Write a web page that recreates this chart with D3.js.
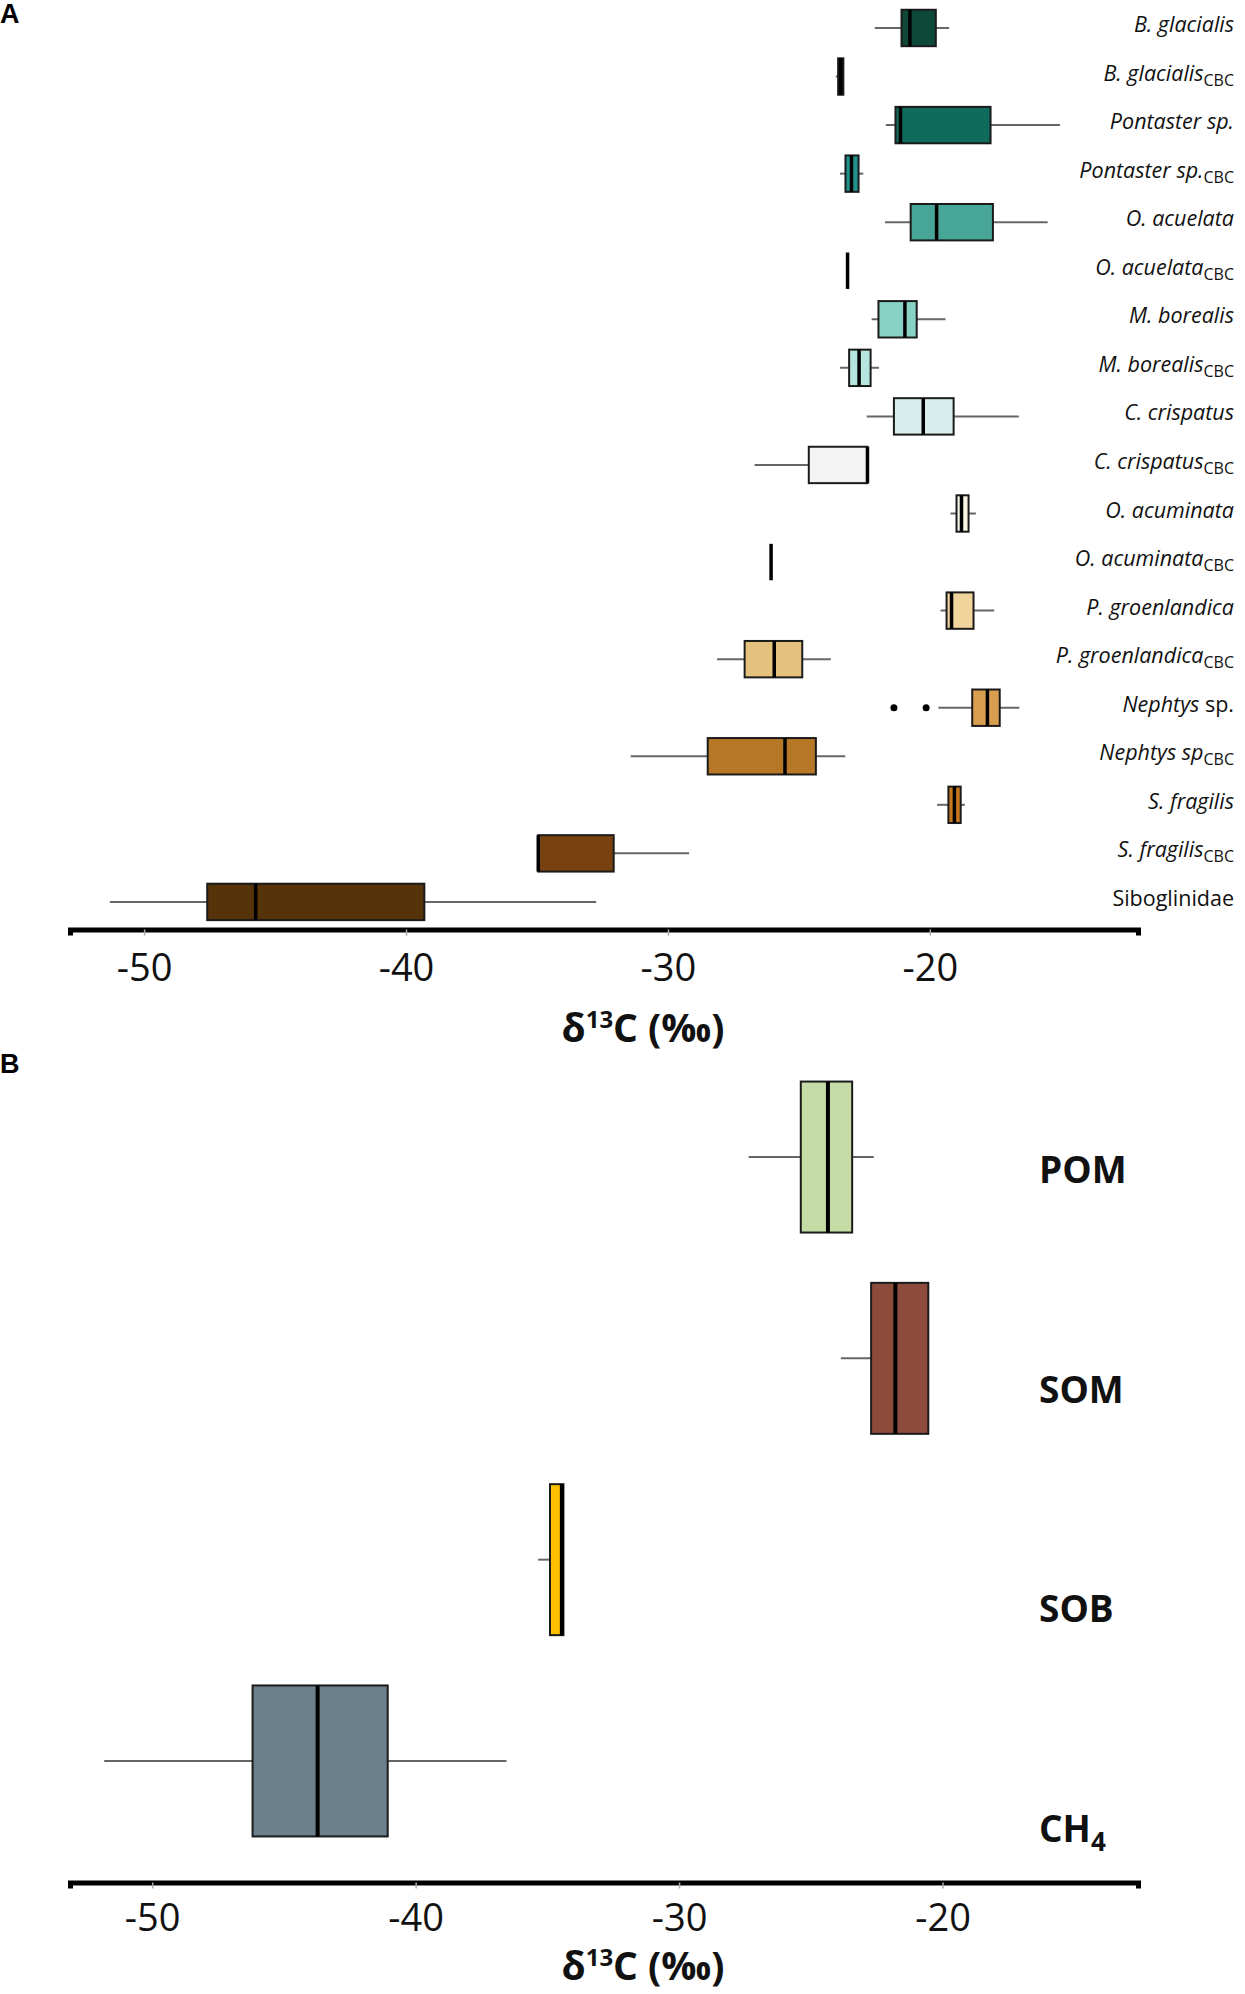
<!DOCTYPE html>
<html>
<head>
<meta charset="utf-8">
<script src="https://cdn.jsdelivr.net/npm/d3@7"></script>
<style>
  body { margin: 0; background: #fff; }
  text { font-family: "Open Sans", sans-serif; }
</style>
</head>
<body>
<div class="chart"></div>
<script>
// Panel A data (δ13C, ‰)
var taxaA = ["B. glacialis", "B. glacialis CBC", "Pontaster sp.", "Pontaster sp. CBC",
  "O. acuelata", "O. acuelata CBC", "M. borealis", "M. borealis CBC",
  "C. crispatus", "C. crispatus CBC", "O. acuminata", "O. acuminata CBC",
  "P. groenlandica", "P. groenlandica CBC", "Nephtys sp.", "Nephtys sp CBC",
  "S. fragilis", "S. fragilis CBC", "Siboglinidae"];
var labelsA = ["B. glacialis", "B. glacialis", "Pontaster  sp.", "Pontaster  sp.",
  "O. acuelata", "O. acuelata", "M. borealis", "M. borealis",
  "C. crispatus", "C. crispatus", "O. acuminata", "O. acuminata",
  "P. groenlandica", "P. groenlandica", "Nephtys ", "Nephtys sp",
  "S. fragilis", "S. fragilis", "Siboglinidae"];
var cbcA = [0,1,0,1,0,1,0,1,0,1,0,1,0,1,0,1,0,1,0];
var loA  = [-22.10, -23.59, -21.68, -23.43, -21.71, -23.14, -22.22, -23.43, -22.41, -26.69, -19.21, -26.06, -19.59, -28.12, -19.67, -31.42, -19.72, -34.95, -51.31];
var q1A  = [-21.08, -23.50, -21.31, -23.22, -20.73, -23.14, -21.96, -23.08, -21.37, -24.62, -18.98, -26.06, -19.36, -27.07, -18.38, -28.48, -19.29, -34.95, -47.59];
var medA = [-20.76, -23.40, -21.12, -22.99, -19.74, -23.14, -20.95, -22.70, -20.25, -22.38, -18.79, -26.06, -19.17, -25.94, -17.80, -25.53, -19.06, -34.95, -45.74];
var q3A  = [-19.77, -23.30, -17.68, -22.72, -17.59, -23.14, -20.50, -22.26, -19.09, -22.38, -18.52, -26.06, -18.33, -24.87, -17.33, -24.35, -18.82, -32.07, -39.30];
var hiA  = [-19.26, -23.30, -15.03, -22.54, -15.50, -23.14, -19.40, -21.94, -16.60, -22.38, -18.24, -26.06, -17.54, -23.78, -16.58, -23.23, -18.66, -29.19, -32.74];
var outliersA = [{taxon: "Nephtys sp.", value: -21.37}, {taxon: "Nephtys sp.", value: -20.14}];
var colorsA = ["#0d4838", "#0a2c24", "#0f6b5b", "#21928a", "#48a698", "#2a6b60", "#88d1c5", "#b6e5de",
  "#d8eeed", "#f3f3f3", "#f8f4e4", "#555555", "#f0d49c", "#e5c17e", "#d99f50", "#b67726",
  "#c7781e", "#774210", "#57330a"];

// Panel B data
var sourcesB = ["POM", "SOM", "SOB", "CH4"];
var loB  = [-27.36, -23.86, -35.35, -51.82];
var q1B  = [-25.38, -22.71, -34.90, -46.19];
var medB = [-24.35, -21.79, -34.45, -43.72];
var q3B  = [-23.43, -20.54, -34.39, -41.06];
var hiB  = [-22.61, -20.54, -34.39, -36.55];
var colorsB = ["#c6dca6", "#8c4b3b", "#ffc000", "#6b808a"];

var tickValues = [-50, -40, -30, -20];

var svgWidth = 1245;
var svgHeight = 1994;

var svg = d3.select(".chart")
  .append("svg")
  .attr("width", svgWidth)
  .attr("height", svgHeight);

svg.append("rect").attr("width", svgWidth).attr("height", svgHeight).attr("fill", "#fff");

function drawPanel(opt) {
  var rows = opt.cats.map(function(c, i) {
    return {cat: c, lo: opt.lo[i], q1: opt.q1[i], med: opt.med[i], q3: opt.q3[i], hi: opt.hi[i], color: opt.colors[i]};
  });

  var x = d3.scaleLinear().domain(opt.xDomain).range([70, 1138]);
  var y = d3.scaleBand().domain(opt.cats).range(opt.yRange)
    .paddingInner(0.25).paddingOuter(0.125);
  var bw = y.bandwidth();

  var g = svg.append("g");

  // whiskers
  g.selectAll(".whisk")
    .data(rows)
    .enter()
    .append("line")
    .attr("x1", d => x(d.lo))
    .attr("x2", d => x(d.hi))
    .attr("y1", d => y(d.cat) + bw / 2)
    .attr("y2", d => y(d.cat) + bw / 2)
    .attr("stroke", "#666")
    .attr("stroke-width", 2);

  // boxes
  g.selectAll(".box")
    .data(rows)
    .enter()
    .append("rect")
    .attr("x", d => x(d.q1))
    .attr("y", d => y(d.cat))
    .attr("width", d => x(d.q3) - x(d.q1))
    .attr("height", bw)
    .attr("fill", d => d.color)
    .attr("stroke", "#1b1b1b")
    .attr("stroke-width", 2);

  // medians
  g.selectAll(".med")
    .data(rows)
    .enter()
    .append("line")
    .attr("x1", d => x(d.med))
    .attr("x2", d => x(d.med))
    .attr("y1", d => y(d.cat))
    .attr("y2", d => y(d.cat) + bw)
    .attr("stroke", "#000")
    .attr("stroke-width", opt.medWidth);

  // axis
  var axis = g.append("g")
    .attr("transform", `translate(0, ${opt.axisY})`)
    .call(d3.axisBottom(x).tickValues(tickValues).tickFormat(d => String(d))
      .tickSizeOuter(0).tickSize(6).tickPadding(opt.tickPad));
  axis.select(".domain").attr("stroke", "#000").attr("stroke-width", 5);
  axis.selectAll(".tick line").attr("stroke", "#aaa").attr("stroke-width", 1.5);
  axis.selectAll(".tick text")
    .attr("fill", "#111")
    .style("font-size", "38px")
    .style("font-family", "'Open Sans', sans-serif");

  // axis title
  var t = g.append("text")
    .attr("x", 643)
    .attr("y", opt.titleY)
    .attr("text-anchor", "middle")
    .style("font-size", "39px")
    .style("font-weight", "bold")
    .attr("fill", "#111");
  t.append("tspan").text("δ");
  t.append("tspan").attr("dy", -14).style("font-size", "24px").text("13");
  t.append("tspan").attr("dy", 14).text("C (‰)");

  return {x: x, y: y, g: g};
}

// Panel A
var pA = drawPanel({
  cats: taxaA, lo: loA, q1: q1A, med: medA, q3: q3A, hi: hiA, colors: colorsA,
  xDomain: [-52.83, -12.05], yRange: [3.7, 926.2], axisY: 929.5, tickPad: 19,
  titleY: 1042, medWidth: 3.5
});

// outliers
pA.g.selectAll(".outlier")
  .data(outliersA)
  .enter()
  .append("circle")
  .attr("cx", d => pA.x(d.value))
  .attr("cy", d => pA.y(d.taxon) + pA.y.bandwidth() / 2)
  .attr("r", 3.5)
  .attr("fill", "#000");

// Panel A labels
var labA = pA.g.selectAll(".labA")
  .data(taxaA)
  .enter()
  .append("text")
  .attr("x", 1234)
  .attr("y", d => pA.y(d) + pA.y.bandwidth() / 2 + 4)
  .attr("text-anchor", "end")
  .style("font-size", "21.5px")
  .attr("fill", "#111");

labA.each(function(d, i) {
  var el = d3.select(this);
  var main = el.append("tspan").text(labelsA[i]);
  if (d !== "Siboglinidae") main.style("font-style", "italic");
  if (d === "Nephtys sp.") el.append("tspan").text("sp.");
  if (cbcA[i]) {
    el.append("tspan").attr("dy", 5).style("font-size", "16px").text("CBC");
  }
});

// Panel B
var pB = drawPanel({
  cats: sourcesB, lo: loB, q1: q1B, med: medB, q3: q3B, hi: hiB, colors: colorsB,
  xDomain: [-53.12, -12.58], yRange: [1056.4, 1861.6], axisY: 1882.5, tickPad: 16,
  titleY: 1980, medWidth: 4
});

var labelY = d3.scalePoint().domain(sourcesB).range([1170, 1829]);
var labB = pB.g.selectAll(".labB")
  .data(sourcesB)
  .enter()
  .append("text")
  .attr("x", 1039)
  .attr("y", d => labelY(d) + 13)
  .style("font-size", "37px")
  .style("font-weight", "bold")
  .attr("fill", "#111");

labB.each(function(d) {
  var el = d3.select(this);
  if (d === "CH4") {
    el.append("tspan").text("CH");
    el.append("tspan").attr("dy", 9).style("font-size", "26px").text("4");
  } else {
    el.text(d);
  }
});

// Panel letters
svg.append("text").attr("x", 0).attr("y", 23)
  .style("font-family", "'Liberation Sans', Arial, sans-serif")
  .style("font-size", "27px").style("font-weight", "bold").text("A");
svg.append("text").attr("x", 0).attr("y", 1073)
  .style("font-family", "'Liberation Sans', Arial, sans-serif")
  .style("font-size", "27px").style("font-weight", "bold").text("B");
</script>
</body>
</html>
